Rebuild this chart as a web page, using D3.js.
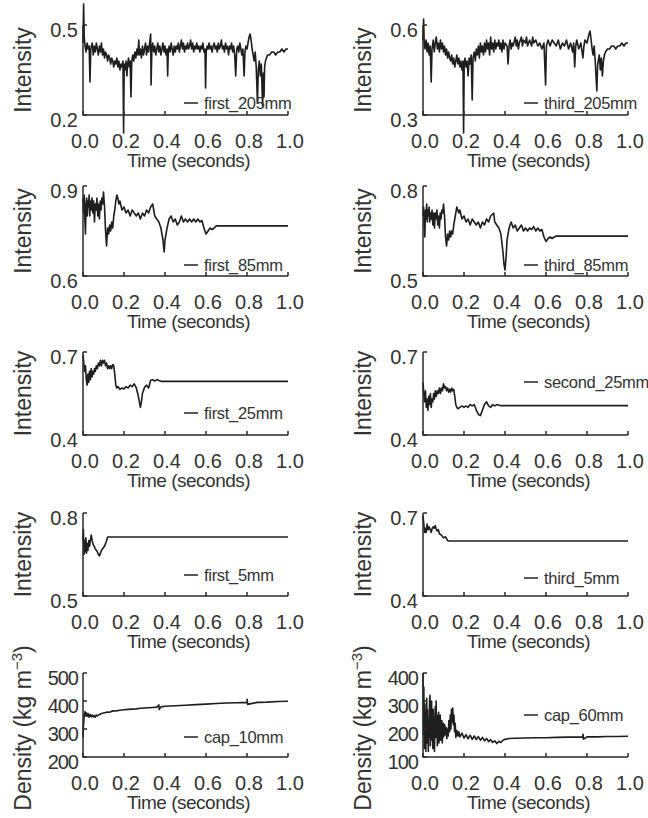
<!DOCTYPE html>
<html>
<head>
<meta charset="utf-8">
<script src="https://cdn.jsdelivr.net/npm/d3@7"></script>
<style>
  body { margin: 0; background: #fff; }
  svg { display: block; }
  .axis-line { stroke: #2a2a2a; stroke-width: 1.5; fill: none; }
  .trace { stroke: #1e1e1e; stroke-width: 1.6; fill: none; stroke-linejoin: round; }
  text { font-family: "Liberation Sans", Arial, sans-serif; fill: #333; }
</style>
</head>
<body>
<div id="chart"></div>
<script>
// Time axis ticks shared by every panel
const timeTicks = [0, 0.2, 0.4, 0.6, 0.8, 1.0];

// Series, [time, value]
const first205 = [[0,0.44],[0.003,0.57],[0.006,0.46],[0.01,0.43],[0.015,0.41],[0.02,0.44],[0.025,0.42],[0.03,0.43],[0.034,0.31],[0.038,0.42],[0.045,0.44],[0.05,0.40],[0.055,0.43],[0.06,0.41],[0.065,0.44],[0.07,0.42],[0.075,0.40],[0.08,0.43],[0.085,0.41],[0.09,0.44],[0.095,0.40],[0.1,0.42],[0.105,0.39],[0.11,0.41],[0.115,0.40],[0.12,0.38],[0.125,0.40],[0.13,0.39],[0.135,0.37],[0.14,0.39],[0.145,0.38],[0.15,0.36],[0.155,0.38],[0.16,0.37],[0.165,0.39],[0.17,0.36],[0.175,0.38],[0.18,0.35],[0.185,0.37],[0.19,0.36],[0.195,0.38],[0.198,0.14],[0.201,0.37],[0.205,0.35],[0.21,0.38],[0.214,0.33],[0.218,0.37],[0.222,0.39],[0.226,0.36],[0.23,0.38],[0.234,0.26],[0.238,0.38],[0.243,0.40],[0.248,0.38],[0.253,0.41],[0.258,0.39],[0.263,0.42],[0.268,0.40],[0.272,0.45],[0.276,0.40],[0.28,0.42],[0.285,0.39],[0.29,0.43],[0.295,0.40],[0.3,0.42],[0.305,0.44],[0.31,0.40],[0.315,0.43],[0.32,0.41],[0.325,0.44],[0.33,0.47],[0.332,0.30],[0.336,0.42],[0.34,0.44],[0.345,0.41],[0.35,0.43],[0.355,0.40],[0.36,0.42],[0.365,0.44],[0.37,0.41],[0.375,0.43],[0.38,0.40],[0.385,0.42],[0.39,0.44],[0.395,0.41],[0.4,0.43],[0.405,0.40],[0.41,0.42],[0.413,0.33],[0.416,0.41],[0.42,0.43],[0.425,0.41],[0.43,0.44],[0.435,0.42],[0.44,0.40],[0.445,0.43],[0.45,0.41],[0.455,0.43],[0.46,0.42],[0.465,0.44],[0.47,0.41],[0.475,0.43],[0.48,0.45],[0.485,0.42],[0.49,0.44],[0.495,0.41],[0.5,0.43],[0.505,0.42],[0.51,0.44],[0.515,0.42],[0.52,0.43],[0.525,0.45],[0.53,0.42],[0.535,0.44],[0.54,0.41],[0.545,0.43],[0.55,0.42],[0.555,0.44],[0.56,0.42],[0.565,0.43],[0.57,0.41],[0.575,0.43],[0.58,0.42],[0.585,0.44],[0.59,0.41],[0.595,0.42],[0.598,0.29],[0.601,0.41],[0.605,0.43],[0.61,0.42],[0.615,0.44],[0.62,0.42],[0.625,0.43],[0.63,0.41],[0.635,0.43],[0.64,0.44],[0.645,0.42],[0.65,0.43],[0.655,0.41],[0.66,0.44],[0.665,0.42],[0.67,0.43],[0.675,0.45],[0.68,0.42],[0.685,0.43],[0.69,0.41],[0.695,0.44],[0.7,0.42],[0.705,0.43],[0.71,0.40],[0.715,0.43],[0.72,0.42],[0.725,0.44],[0.73,0.41],[0.735,0.43],[0.74,0.40],[0.745,0.33],[0.75,0.42],[0.755,0.43],[0.76,0.41],[0.765,0.44],[0.77,0.42],[0.775,0.40],[0.78,0.42],[0.786,0.33],[0.79,0.41],[0.795,0.43],[0.8,0.42],[0.805,0.44],[0.81,0.46],[0.815,0.47],[0.82,0.45],[0.825,0.42],[0.83,0.40],[0.835,0.38],[0.84,0.41],[0.845,0.36],[0.851,0.24],[0.855,0.35],[0.86,0.38],[0.865,0.33],[0.87,0.37],[0.876,0.23],[0.88,0.34],[0.883,0.26],[0.886,0.36],[0.89,0.38],[0.895,0.39],[0.9,0.40],[0.91,0.40],[0.92,0.41],[0.93,0.41],[0.94,0.40],[0.95,0.41],[0.96,0.41],[0.97,0.42],[0.98,0.41],[0.99,0.42],[1.0,0.42]];

const third205 = [[0,0.55],[0.003,0.62],[0.006,0.54],[0.01,0.52],[0.015,0.55],[0.02,0.51],[0.025,0.54],[0.03,0.50],[0.035,0.53],[0.04,0.41],[0.044,0.52],[0.05,0.55],[0.055,0.51],[0.06,0.54],[0.065,0.56],[0.07,0.52],[0.075,0.54],[0.08,0.51],[0.085,0.55],[0.09,0.52],[0.095,0.54],[0.1,0.51],[0.105,0.53],[0.11,0.50],[0.115,0.52],[0.12,0.49],[0.125,0.51],[0.13,0.49],[0.135,0.48],[0.14,0.50],[0.145,0.47],[0.15,0.49],[0.155,0.46],[0.16,0.48],[0.165,0.50],[0.17,0.47],[0.175,0.49],[0.18,0.46],[0.185,0.48],[0.19,0.45],[0.195,0.48],[0.198,0.24],[0.201,0.47],[0.205,0.49],[0.21,0.46],[0.215,0.48],[0.22,0.43],[0.225,0.49],[0.23,0.47],[0.235,0.50],[0.24,0.35],[0.244,0.49],[0.25,0.51],[0.255,0.48],[0.26,0.52],[0.265,0.50],[0.27,0.53],[0.275,0.49],[0.28,0.54],[0.285,0.51],[0.29,0.53],[0.295,0.50],[0.3,0.54],[0.305,0.51],[0.31,0.55],[0.315,0.52],[0.32,0.54],[0.325,0.50],[0.33,0.56],[0.335,0.52],[0.34,0.54],[0.345,0.51],[0.35,0.55],[0.355,0.52],[0.36,0.54],[0.365,0.53],[0.37,0.55],[0.375,0.52],[0.38,0.54],[0.385,0.51],[0.39,0.55],[0.395,0.52],[0.4,0.54],[0.41,0.53],[0.415,0.47],[0.42,0.53],[0.425,0.55],[0.43,0.52],[0.435,0.54],[0.44,0.53],[0.45,0.56],[0.455,0.53],[0.46,0.55],[0.465,0.52],[0.47,0.54],[0.48,0.56],[0.485,0.53],[0.49,0.55],[0.5,0.54],[0.505,0.56],[0.51,0.53],[0.52,0.55],[0.53,0.53],[0.535,0.56],[0.54,0.54],[0.55,0.55],[0.56,0.53],[0.57,0.54],[0.58,0.52],[0.59,0.54],[0.598,0.40],[0.602,0.53],[0.61,0.55],[0.62,0.53],[0.63,0.55],[0.64,0.54],[0.65,0.53],[0.66,0.55],[0.67,0.52],[0.68,0.54],[0.69,0.53],[0.7,0.55],[0.71,0.52],[0.72,0.54],[0.73,0.51],[0.735,0.54],[0.74,0.46],[0.745,0.53],[0.75,0.55],[0.76,0.52],[0.77,0.54],[0.78,0.49],[0.785,0.53],[0.79,0.55],[0.8,0.54],[0.81,0.57],[0.815,0.58],[0.82,0.55],[0.825,0.52],[0.83,0.50],[0.835,0.53],[0.84,0.48],[0.848,0.38],[0.852,0.47],[0.86,0.50],[0.865,0.45],[0.87,0.49],[0.875,0.43],[0.88,0.48],[0.885,0.50],[0.89,0.51],[0.9,0.52],[0.91,0.52],[0.92,0.53],[0.93,0.53],[0.94,0.52],[0.95,0.53],[0.96,0.53],[0.97,0.54],[0.98,0.53],[0.99,0.54],[1.0,0.54]];

const first85 = [[0,0.86],[0.003,0.81],[0.006,0.87],[0.009,0.79],[0.012,0.74],[0.015,0.84],[0.018,0.86],[0.021,0.80],[0.024,0.85],[0.027,0.83],[0.03,0.87],[0.033,0.80],[0.036,0.85],[0.04,0.82],[0.044,0.86],[0.048,0.81],[0.052,0.85],[0.056,0.78],[0.06,0.84],[0.064,0.82],[0.068,0.86],[0.072,0.80],[0.076,0.84],[0.08,0.79],[0.084,0.85],[0.088,0.82],[0.092,0.86],[0.096,0.84],[0.1,0.88],[0.105,0.83],[0.11,0.75],[0.115,0.70],[0.12,0.76],[0.125,0.74],[0.13,0.77],[0.135,0.75],[0.14,0.78],[0.145,0.76],[0.15,0.80],[0.155,0.82],[0.16,0.85],[0.165,0.87],[0.17,0.86],[0.175,0.84],[0.18,0.85],[0.19,0.82],[0.2,0.83],[0.21,0.81],[0.22,0.82],[0.23,0.80],[0.24,0.82],[0.25,0.81],[0.26,0.80],[0.27,0.81],[0.28,0.79],[0.29,0.81],[0.3,0.80],[0.31,0.82],[0.32,0.81],[0.33,0.83],[0.34,0.84],[0.35,0.80],[0.36,0.79],[0.37,0.78],[0.38,0.76],[0.39,0.72],[0.396,0.68],[0.4,0.72],[0.41,0.76],[0.42,0.79],[0.43,0.80],[0.44,0.78],[0.45,0.79],[0.46,0.77],[0.47,0.78],[0.48,0.80],[0.49,0.78],[0.5,0.79],[0.51,0.78],[0.52,0.79],[0.53,0.78],[0.54,0.79],[0.55,0.78],[0.56,0.79],[0.57,0.78],[0.58,0.785],[0.59,0.76],[0.6,0.74],[0.61,0.75],[0.62,0.76],[0.63,0.755],[0.64,0.76],[0.65,0.767],[0.7,0.767],[0.8,0.767],[0.9,0.767],[1.0,0.767]];

const third85 = [[0,0.70],[0.003,0.73],[0.006,0.66],[0.009,0.63],[0.012,0.72],[0.015,0.69],[0.018,0.74],[0.021,0.68],[0.024,0.72],[0.027,0.70],[0.03,0.73],[0.033,0.68],[0.036,0.71],[0.04,0.69],[0.044,0.72],[0.048,0.67],[0.052,0.71],[0.056,0.66],[0.06,0.71],[0.064,0.69],[0.068,0.72],[0.072,0.67],[0.076,0.70],[0.08,0.66],[0.084,0.71],[0.088,0.69],[0.092,0.72],[0.096,0.71],[0.1,0.74],[0.105,0.70],[0.11,0.63],[0.115,0.60],[0.12,0.64],[0.125,0.62],[0.13,0.65],[0.135,0.63],[0.14,0.65],[0.145,0.64],[0.15,0.67],[0.155,0.69],[0.16,0.71],[0.165,0.73],[0.17,0.72],[0.175,0.71],[0.18,0.72],[0.19,0.69],[0.2,0.70],[0.21,0.68],[0.22,0.69],[0.23,0.67],[0.24,0.69],[0.25,0.68],[0.26,0.67],[0.27,0.68],[0.28,0.66],[0.29,0.68],[0.3,0.67],[0.31,0.69],[0.32,0.68],[0.33,0.70],[0.345,0.71],[0.35,0.68],[0.36,0.67],[0.37,0.66],[0.38,0.64],[0.39,0.58],[0.395,0.54],[0.4,0.52],[0.405,0.56],[0.41,0.62],[0.42,0.66],[0.43,0.68],[0.44,0.66],[0.45,0.67],[0.46,0.65],[0.47,0.66],[0.48,0.67],[0.49,0.65],[0.5,0.66],[0.51,0.65],[0.52,0.66],[0.53,0.655],[0.54,0.665],[0.55,0.65],[0.56,0.66],[0.57,0.65],[0.58,0.655],[0.59,0.63],[0.6,0.615],[0.61,0.625],[0.62,0.63],[0.63,0.625],[0.64,0.63],[0.65,0.633],[0.7,0.633],[0.8,0.633],[0.9,0.633],[1.0,0.633]];

const first25 = [[0,0.69],[0.004,0.66],[0.008,0.63],[0.012,0.65],[0.016,0.60],[0.02,0.58],[0.024,0.62],[0.028,0.59],[0.032,0.63],[0.036,0.60],[0.04,0.64],[0.044,0.61],[0.048,0.63],[0.052,0.62],[0.056,0.64],[0.06,0.63],[0.065,0.65],[0.07,0.64],[0.075,0.66],[0.08,0.65],[0.085,0.67],[0.09,0.65],[0.095,0.67],[0.1,0.66],[0.105,0.67],[0.11,0.65],[0.115,0.66],[0.12,0.64],[0.125,0.65],[0.13,0.64],[0.135,0.65],[0.14,0.64],[0.145,0.655],[0.15,0.65],[0.155,0.62],[0.16,0.58],[0.165,0.57],[0.17,0.575],[0.18,0.565],[0.19,0.57],[0.2,0.566],[0.21,0.575],[0.22,0.57],[0.23,0.58],[0.24,0.575],[0.25,0.585],[0.26,0.57],[0.27,0.54],[0.28,0.50],[0.285,0.52],[0.29,0.55],[0.3,0.572],[0.31,0.58],[0.32,0.57],[0.33,0.598],[0.34,0.60],[0.35,0.595],[0.36,0.60],[0.37,0.597],[0.38,0.594],[0.4,0.594],[0.6,0.594],[0.8,0.594],[1.0,0.594]];

const second25 = [[0,0.59],[0.004,0.55],[0.008,0.52],[0.012,0.56],[0.016,0.50],[0.02,0.53],[0.024,0.49],[0.028,0.54],[0.032,0.51],[0.036,0.55],[0.04,0.50],[0.044,0.53],[0.048,0.52],[0.052,0.55],[0.056,0.53],[0.06,0.56],[0.065,0.54],[0.07,0.56],[0.075,0.55],[0.08,0.57],[0.085,0.55],[0.09,0.57],[0.095,0.56],[0.1,0.585],[0.105,0.57],[0.11,0.575],[0.115,0.56],[0.12,0.57],[0.125,0.555],[0.13,0.565],[0.135,0.555],[0.14,0.57],[0.145,0.56],[0.15,0.565],[0.155,0.54],[0.16,0.51],[0.165,0.50],[0.17,0.495],[0.18,0.50],[0.19,0.505],[0.2,0.50],[0.21,0.505],[0.22,0.50],[0.23,0.51],[0.24,0.505],[0.25,0.51],[0.26,0.49],[0.27,0.475],[0.28,0.47],[0.29,0.49],[0.3,0.51],[0.31,0.52],[0.32,0.505],[0.33,0.50],[0.34,0.51],[0.35,0.505],[0.36,0.51],[0.38,0.506],[0.4,0.506],[0.6,0.506],[0.8,0.506],[1.0,0.506]];

const first5 = [[0,0.70],[0.002,0.74],[0.005,0.65],[0.008,0.70],[0.011,0.66],[0.014,0.71],[0.017,0.655],[0.02,0.69],[0.024,0.665],[0.028,0.70],[0.032,0.68],[0.036,0.70],[0.04,0.72],[0.045,0.70],[0.05,0.685],[0.055,0.68],[0.06,0.67],[0.065,0.665],[0.07,0.66],[0.075,0.65],[0.08,0.645],[0.085,0.655],[0.09,0.665],[0.095,0.67],[0.1,0.675],[0.105,0.68],[0.11,0.69],[0.115,0.70],[0.12,0.713],[0.13,0.713],[0.4,0.713],[0.7,0.713],[1.0,0.713]];

const third5 = [[0,0.69],[0.004,0.66],[0.008,0.63],[0.012,0.645],[0.016,0.63],[0.02,0.66],[0.025,0.64],[0.03,0.65],[0.035,0.64],[0.04,0.63],[0.045,0.645],[0.05,0.65],[0.055,0.645],[0.06,0.655],[0.065,0.64],[0.07,0.635],[0.075,0.64],[0.08,0.625],[0.09,0.62],[0.1,0.61],[0.11,0.614],[0.12,0.6],[0.13,0.599],[0.4,0.599],[0.7,0.599],[1.0,0.599]];

const cap10 = [[0,270],[0.002,310],[0.004,330],[0.006,355],[0.008,345],[0.01,362],[0.013,348],[0.016,358],[0.02,345],[0.025,355],[0.03,342],[0.035,352],[0.04,344],[0.045,350],[0.05,343],[0.055,348],[0.06,342],[0.065,350],[0.07,347],[0.08,352],[0.09,355],[0.1,357],[0.11,359],[0.12,361],[0.13,360],[0.14,363],[0.15,365],[0.16,364],[0.18,367],[0.2,369],[0.22,370],[0.24,371],[0.26,372],[0.28,374],[0.3,375],[0.32,376],[0.34,377],[0.36,378],[0.37,386],[0.372,370],[0.38,379],[0.4,381],[0.45,383],[0.5,385],[0.55,387],[0.6,389],[0.65,391],[0.7,393],[0.75,394],[0.8,395],[0.801,406],[0.803,388],[0.85,395],[0.9,396],[0.95,398],[1.0,399]];

const cap60 = [[0,400],[0.002,180],[0.004,350],[0.006,130],[0.008,290],[0.01,160],[0.012,260],[0.014,120],[0.016,240],[0.018,310],[0.02,150],[0.022,270],[0.024,190],[0.026,120],[0.028,230],[0.03,170],[0.032,300],[0.034,320],[0.036,140],[0.038,250],[0.04,200],[0.042,300],[0.044,160],[0.046,230],[0.048,130],[0.05,270],[0.052,180],[0.054,240],[0.056,120],[0.058,210],[0.06,280],[0.062,170],[0.064,300],[0.066,190],[0.068,250],[0.07,140],[0.072,220],[0.074,180],[0.076,260],[0.078,150],[0.08,230],[0.082,190],[0.084,250],[0.086,160],[0.088,210],[0.09,180],[0.092,230],[0.094,150],[0.096,200],[0.098,170],[0.1,220],[0.103,175],[0.106,215],[0.11,180],[0.113,205],[0.116,165],[0.12,200],[0.123,175],[0.126,230],[0.13,190],[0.133,250],[0.136,200],[0.139,270],[0.142,225],[0.145,275],[0.148,215],[0.151,250],[0.154,190],[0.157,220],[0.16,170],[0.165,195],[0.17,175],[0.175,190],[0.18,172],[0.19,185],[0.2,168],[0.21,180],[0.22,165],[0.23,178],[0.24,163],[0.25,175],[0.26,162],[0.27,173],[0.28,160],[0.29,170],[0.3,158],[0.31,166],[0.32,155],[0.33,162],[0.34,152],[0.35,158],[0.36,148],[0.37,156],[0.38,152],[0.39,160],[0.4,163],[0.42,166],[0.45,167],[0.5,168],[0.55,169],[0.6,169],[0.65,170],[0.7,171],[0.75,171],[0.78,171],[0.781,181],[0.783,164],[0.8,172],[0.85,172],[0.9,173],[0.95,173],[1.0,174]];

// Panel order: left column then right column, row by row
const seriesNames = ["first_205mm", "third_205mm", "first_85mm", "third_85mm", "first_25mm",
                     "second_25mm", "first_5mm", "third_5mm", "cap_10mm", "cap_60mm"];
const seriesData = [first205, third205, first85, third85, first25, second25, first5, third5, cap10, cap60];
const yTickSets = [[0.2, 0.5], [0.3, 0.6], [0.6, 0.9], [0.5, 0.8], [0.4, 0.7],
                   [0.4, 0.7], [0.5, 0.8], [0.4, 0.7], [200, 300, 400, 500], [100, 200, 300, 400]];

// Layout
const W = 648, H = 818;
const colX = [83, 423];
const plotW = 205;
const rowBottom = [115, 276, 435, 596, 757];
const rowTop = [25, 186, 352, 513, 673];
const legendY = [109, 109, 271, 271, 419, 388, 581, 584, 743, 721];

const svg = d3.select("#chart").append("svg")
  .attr("width", W)
  .attr("height", H);

const line = d3.line();

seriesData.forEach((data, i) => {
  let row = Math.floor(i / 2), col = i % 2;
  let x0 = colX[col], bottom = rowBottom[row], top = rowTop[row];
  let ticks = yTickSets[i];
  let isDensity = row === 4;

  let x = d3.scaleLinear().domain([0, 1]).range([x0, x0 + plotW]);
  let y = d3.scaleLinear().domain([ticks[0], ticks[ticks.length - 1]]).range([bottom, top]);

  let g = svg.append("g");

  // Trace
  g.append("path")
    .datum(data)
    .attr("class", "trace")
    .attr("d", line.x(d => x(d[0])).y(d => y(d[1])));

  // Axes lines
  g.append("path")
    .attr("class", "axis-line")
    .attr("d", `M${x(0)},${y.range()[1]}V${bottom}H${x(1)}`);

  // x ticks (inward) and labels
  for (let t of timeTicks) {
    g.append("line")
      .attr("class", "axis-line")
      .attr("stroke-width", 1)
      .attr("x1", x(t)).attr("x2", x(t))
      .attr("y1", bottom).attr("y2", bottom - 4);
    g.append("text")
      .attr("x", x(t) + 2)
      .attr("y", bottom + 33)
      .attr("text-anchor", "middle")
      .attr("font-size", 20)
      .text(d3.format(".1f")(t));
  }

  // y ticks and labels
  for (let v of ticks) {
    g.append("line")
      .attr("class", "axis-line")
      .attr("stroke-width", 1)
      .attr("x1", x(0)).attr("x2", x(0) + 4)
      .attr("y1", y(v)).attr("y2", y(v));
    g.append("text")
      .attr("x", x(0) - 5)
      .attr("y", y(v) + 12)
      .attr("text-anchor", "end")
      .attr("font-size", 20)
      .attr("letter-spacing", isDensity ? -1 : 0)
      .text(isDensity ? v : d3.format(".1f")(v));
  }

  // x title
  g.append("text")
    .attr("x", x(0.5) + 3)
    .attr("y", bottom + 52)
    .attr("text-anchor", "middle")
    .attr("font-size", 19)
    .attr("letter-spacing", -0.5)
    .text("Time (seconds)");

  // y title
  let ty = g.append("text")
    .attr("transform", `translate(${x0 - 52},${(top + bottom) / 2 + (isDensity ? 13 : 0)}) rotate(-90)`)
    .attr("text-anchor", "middle")
    .attr("font-size", 23);
  if (isDensity) {
    ty.append("tspan").text("Density (kg m");
    ty.append("tspan").attr("font-size", 15).attr("dy", -9).text("\u22123");
    ty.append("tspan").attr("dy", 9).text(")");
  } else {
    ty.text("Intensity");
  }

  // Legend
  let lx = x0 + 101;
  g.append("line")
    .attr("x1", lx).attr("x2", lx + 14)
    .attr("y1", legendY[i] - 6).attr("y2", legendY[i] - 6)
    .attr("stroke", "#222")
    .attr("stroke-width", 1.5);
  g.append("text")
    .attr("x", lx + 20)
    .attr("y", legendY[i])
    .attr("font-size", 16.5)
    .attr("letter-spacing", -0.3)
    .text(seriesNames[i]);
});
</script>
</body>
</html>
